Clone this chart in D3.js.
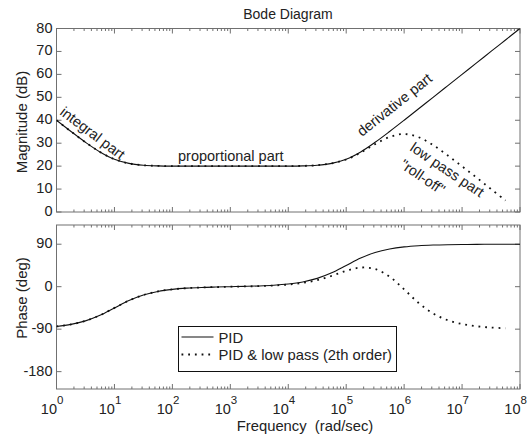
<!DOCTYPE html>
<html>
<head>
<meta charset="utf-8">
<script src="https://cdn.jsdelivr.net/npm/d3@7"></script>
<style>
  html, body { margin: 0; padding: 0; background: #fff; }
  svg { display: block; font-family: "Liberation Sans", Arial, Helvetica, sans-serif; }
  text { fill: #222; }
</style>
</head>
<body>
<svg id="chart" width="530" height="437"></svg>
<script>
// Frequency grid (rad/sec), quarter-decade steps
const freq = [1, 1.78, 3.16, 5.62, 10, 17.8, 31.6, 56.2, 100, 178, 316, 562,
  1e3, 1.78e3, 3.16e3, 5.62e3, 1e4, 1.78e4, 3.16e4, 5.62e4, 1e5, 1.78e5, 3.16e5, 5.62e5,
  1e6, 1.78e6, 3.16e6, 5.62e6, 1e7, 1.78e7, 3.16e7, 5.62e7, 1e8];

// PID controller response
const pidMag = [40.0, 35.1, 30.4, 26.2, 23.0, 21.2, 20.4, 20.1, 20.0, 20.0, 20.0, 20.0,
  20.0, 20.0, 20.0, 20.0, 20.0, 20.1, 20.4, 21.2, 23.0, 26.2, 30.4, 35.1,
  40.0, 45.0, 50.0, 55.0, 60.0, 65.0, 70.0, 75.0, 80.0];
const pidPhase = [-84.3, -79.9, -72.5, -60.6, -45.0, -29.4, -17.6, -10.1, -5.7, -3.1, -1.6, -0.7,
  0.0, 0.7, 1.6, 3.1, 5.7, 10.1, 17.6, 29.4, 45.0, 60.6, 72.5, 79.9,
  84.3, 86.8, 88.2, 89.0, 89.4, 89.7, 89.8, 89.9, 89.9];

// PID followed by a 2nd-order low pass (response drawn up to ~5.6e7 rad/sec)
const lpMag = [40.0, 35.1, 30.4, 26.2, 23.0, 21.2, 20.4, 20.1, 20.0, 20.0, 20.0, 20.0,
  20.0, 20.0, 20.0, 20.0, 20.0, 20.1, 20.4, 21.2, 22.9, 25.9, 29.6, 32.7,
  34.0, 32.6, 29.2, 24.7, 19.9, 15.0, 10.0, 5.0];
const lpPhase = [-84.3, -79.9, -72.5, -60.6, -45.0, -29.4, -17.6, -10.1, -5.7, -3.1, -1.7, -0.8,
  -0.1, 0.5, 1.3, 2.5, 4.5, 8.0, 13.9, 22.9, 33.6, 40.5, 37.4, 21.2,
  -5.7, -34.5, -56.7, -70.9, -79.2, -83.9, -86.6, -88.1];

// Axis ticks
const decades = [1, 10, 100, 1e3, 1e4, 1e5, 1e6, 1e7, 1e8];
const decadeExp = ["0", "1", "2", "3", "4", "5", "6", "7", "8"];
const magTicks = [0, 10, 20, 30, 40, 50, 60, 70, 80];
const phaseTicks = [-180, -90, 0, 90];

const seriesNames = ["PID", "PID & low pass (2th order)"];

const svg = d3.select("#chart");
const frameColor = "#707070";
const lineColor = "#111";

const x = d3.scaleLog().domain([1, 1e8]).range([56.5, 520]);
const yMag = d3.scaleLinear().domain([0, 80]).range([212, 28.5]);
const yPh = d3.scaleLinear().domain([-216.8, 130.7]).range([389, 225]);

const minorTicks = [];
decades.slice(0, -1).forEach(d => { for (let k = 2; k <= 9; k++) minorTicks.push(d * k); });

function drawFrame(y, yTicks, id) {
  const [y0, y1] = y.range();
  const [x0, x1] = x.range();
  const g = svg.append("g");
  g.append("rect").attr("x", x0).attr("y", y1).attr("width", x1 - x0).attr("height", y0 - y1)
    .attr("fill", "none").attr("stroke", frameColor).attr("stroke-width", 1);
  // x ticks (top + bottom, inward)
  decades.forEach(d => {
    const xx = x(d);
    g.append("line").attr("x1", xx).attr("x2", xx).attr("y1", y0).attr("y2", y0 - 5).attr("stroke", frameColor);
    g.append("line").attr("x1", xx).attr("x2", xx).attr("y1", y1).attr("y2", y1 + 5).attr("stroke", frameColor);
  });
  minorTicks.forEach(d => {
    const xx = x(d);
    g.append("line").attr("x1", xx).attr("x2", xx).attr("y1", y0).attr("y2", y0 - 2.5).attr("stroke", frameColor);
    g.append("line").attr("x1", xx).attr("x2", xx).attr("y1", y1).attr("y2", y1 + 2.5).attr("stroke", frameColor);
  });
  // y ticks (left + right, inward) and labels
  yTicks.forEach(v => {
    const yy = y(v);
    g.append("line").attr("x1", x0).attr("x2", x0 + 5).attr("y1", yy).attr("y2", yy).attr("stroke", frameColor);
    g.append("line").attr("x1", x1).attr("x2", x1 - 5).attr("y1", yy).attr("y2", yy).attr("stroke", frameColor);
    g.append("text").attr("x", x0 - 4).attr("y", yy + 4).attr("text-anchor", "end")
      .attr("font-size", "14.5px").text(v);
  });
  svg.append("clipPath").attr("id", id).append("rect")
    .attr("x", x0).attr("y", y1).attr("width", x1 - x0).attr("height", y0 - y1);
}

drawFrame(yMag, magTicks, "clipMag");
drawFrame(yPh, phaseTicks, "clipPh");

function drawCurve(vals, y, clip, dotted) {
  const line = d3.line()
    .x((d, i) => x(freq[i]))
    .y(d => y(d))
    .curve(d3.curveCatmullRom.alpha(0.5));
  const p = svg.append("path").datum(vals)
    .attr("clip-path", `url(#${clip})`)
    .attr("d", line)
    .attr("fill", "none")
    .attr("stroke", lineColor);
  if (dotted) p.attr("stroke-width", 1.8).attr("stroke-dasharray", "1.8 4.9");
  else p.attr("stroke-width", 1.1);
}

drawCurve(pidMag, yMag, "clipMag", false);
drawCurve(lpMag, yMag, "clipMag", true);
drawCurve(pidPhase, yPh, "clipPh", false);
drawCurve(lpPhase, yPh, "clipPh", true);

// x tick labels 10^n below the phase axes
decades.forEach((d, i) => {
  const xx = x(d);
  svg.append("text").attr("x", xx + 0.5).attr("y", 414).attr("text-anchor", "end")
    .attr("font-size", "14.5px").text("10");
  svg.append("text").attr("x", xx + 0.5).attr("y", 404).attr("text-anchor", "start")
    .attr("font-size", "11.5px").text(decadeExp[i]);
});

// Titles and axis labels
svg.append("text").attr("x", 288).attr("y", 19).attr("text-anchor", "middle")
  .attr("font-size", "14px").text("Bode Diagram");
svg.append("text").attr("transform", "translate(27,122) rotate(-90)").attr("text-anchor", "middle")
  .attr("font-size", "15px").text("Magnitude (dB)");
svg.append("text").attr("transform", "translate(27,298) rotate(-90)").attr("text-anchor", "middle")
  .attr("font-size", "15px").text("Phase (deg)");
svg.append("text").attr("x", 305).attr("y", 431).attr("text-anchor", "middle")
  .attr("font-size", "14.8px").attr("xml:space", "preserve").style("white-space", "pre")
  .text("Frequency  (rad/sec)");

// Annotations on the magnitude plot
const notes = [
  { t: "integral part", x: 59, y: 114, a: 37 },
  { t: "proportional part", x: 178, y: 161, a: 0 },
  { t: "derivative part", x: 362, y: 137, a: -38.5 },
  { t: "low pass part", x: 409, y: 150, a: 34 },
  { t: "\"roll-off\"", x: 399, y: 167, a: 34 }
];
notes.forEach(n => {
  svg.append("text").attr("transform", `translate(${n.x},${n.y}) rotate(${n.a})`)
    .attr("font-size", "14.5px").text(n.t);
});

// Legend
const lg = svg.append("g");
lg.append("rect").attr("x", 178.5).attr("y", 326.5).attr("width", 218).attr("height", 45)
  .attr("fill", "#fff").attr("stroke", "#111").attr("stroke-width", 1);
lg.append("line").attr("x1", 181.5).attr("x2", 213.5).attr("y1", 337).attr("y2", 337)
  .attr("stroke", lineColor).attr("stroke-width", 1.1);
lg.append("line").attr("x1", 181.5).attr("x2", 213.5).attr("y1", 354.5).attr("y2", 354.5)
  .attr("stroke", lineColor).attr("stroke-width", 1.8).attr("stroke-dasharray", "1.8 4.9");
lg.append("text").attr("x", 218.5).attr("y", 342.5).attr("font-size", "14.8px").text(seriesNames[0]);
lg.append("text").attr("x", 218.5).attr("y", 360).attr("font-size", "14.8px").text(seriesNames[1]);
</script>
</body>
</html>
